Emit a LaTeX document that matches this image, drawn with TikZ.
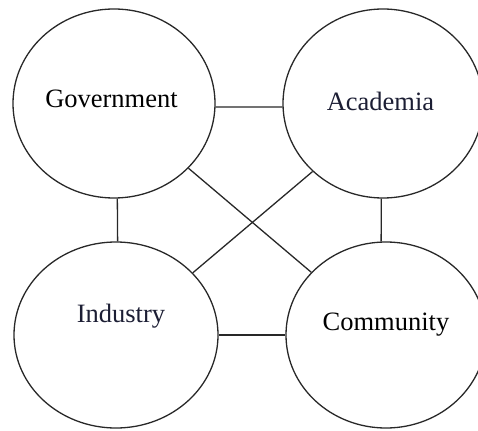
\documentclass[tikz,border=0pt]{standalone}
\usepackage{fontspec}
\setmainfont{Liberation Serif}
\usetikzlibrary{shapes.geometric}
\definecolor{navytext}{RGB}{28,30,52}
\definecolor{linegray}{RGB}{40,40,40}
\begin{document}
\begin{tikzpicture}[x=1pt,y=-1pt,
  bubble/.style={draw=linegray, line width=1.3pt, ellipse, inner sep=0pt,
                 minimum width=202pt, minimum height=189pt},
  lbl/.style={font=\fontsize{26.5}{30}\selectfont, inner sep=0pt, anchor=base},
  link/.style={draw=linegray, line width=1.3pt}]
\useasboundingbox (0,0) rectangle (478,430);
\node[bubble] (gov) at (114,103.5) {};
\node[bubble, minimum width=200pt] (acad) at (383,103.5) {};
\node[bubble, minimum width=204pt, minimum height=186pt] (ind) at (116,335) {};
\node[bubble, minimum width=200pt, minimum height=186pt] (comm) at (386,335) {};
\node[lbl] (govt) at (111.5,108) {Government};
\node[lbl, text=navytext] (acadt) at (380.5,111) {Academia};
\node[lbl, text=navytext] (indt) at (121,322.7) {Industry};
\node[lbl] (commt) at (386,330) {Community};
\draw[link] (gov.-2) -- (acad.182);
\draw[link] (gov.-88) -- (ind.89.5);
\draw[link] (acad.-91.8) -- (comm.93.7);
\draw[link] (ind.0) -- (comm.180);
\draw[link] (gov.-41.6) -- (comm.140.4);
\draw[link] (acad.-136.5) -- (ind.39.7);
\end{tikzpicture}
\end{document}
